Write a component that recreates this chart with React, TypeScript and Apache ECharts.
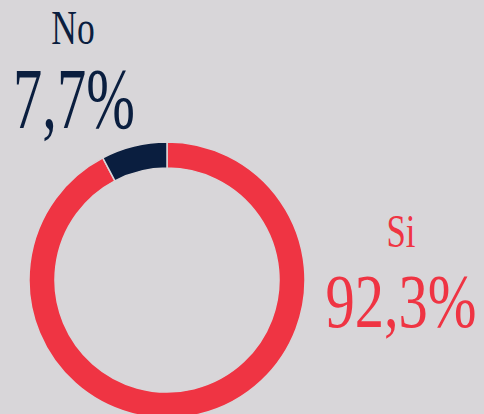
import React, { useEffect, useRef } from "react";
import * as echarts from "echarts";

const categories = ["Si", "No"];
const values = [92.3, 7.7];
const colors = ["#EF3443", "#0A1E3F"];

const BG = "#D8D6D9";
const FONT = "Liberation Serif";

const fmt = (v: number) => v.toFixed(1).replace(".", ",") + "%";

export default function App() {
  const ref = useRef<HTMLDivElement>(null);
  useEffect(() => {
    if (!ref.current) return;
    const chart = echarts.init(ref.current, null, { renderer: "svg" });
    const labelText = (
      text: string,
      x: number,
      y: number,
      size: number,
      color: string,
      sx: number
    ) => ({
      type: "text",
      x,
      y,
      scaleX: sx,
      silent: true,
      style: {
        text,
        x: 0,
        y: 0,
        fontFamily: FONT,
        fontSize: size,
        fill: color,
        align: "center",
        verticalAlign: "middle",
      },
    });
    chart.setOption({
      animation: false,
      backgroundColor: BG,
      graphic: [
        labelText(categories[1], 73, 28, 48, colors[1], 0.74),
        labelText(fmt(values[1]), 74, 99, 86, colors[1], 0.68),
        labelText(categories[0], 401, 231, 47, colors[0], 0.74),
        labelText(fmt(values[0]), 401, 302, 76, colors[0], 0.77),
      ],
      series: [
        {
          type: "pie",
          center: [167, 280],
          radius: [112, 138],
          startAngle: 90,
          clockwise: true,
          silent: true,
          label: { show: false },
          labelLine: { show: false },
          itemStyle: { borderColor: BG, borderWidth: 1.5 },
          data: categories.map((c, i) => ({
            name: c,
            value: values[i],
            itemStyle: { color: colors[i] },
          })),
        },
      ],
    });
    return () => chart.dispose();
  }, []);
  return (
    <div
      ref={ref}
      style={{ position: "fixed", left: 0, top: 0, width: 484, height: 414 }}
    />
  );
}
